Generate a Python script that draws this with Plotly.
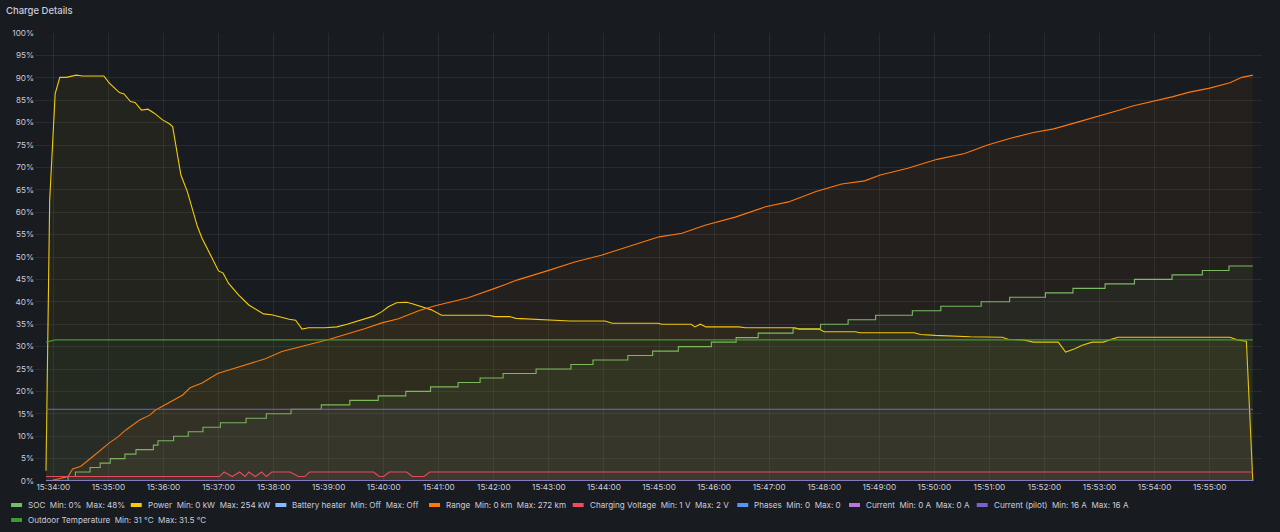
import pandas as pd
import plotly.graph_objects as go

# seconds relative to 15:34:00, values already scaled to % like the panel shows
base = pd.Timestamp('2023-07-15 15:34:00')

soc_sec = [-8, 16, 24, 40, 51, 62, 78, 90, 109, 114, 131, 147, 163, 182, 210, 232, 259,
           292, 323, 354, 384, 411, 441, 465, 490, 526, 564, 588, 626, 653, 681, 717,
           744, 768, 806, 836, 866, 896, 936, 967, 1011, 1042, 1081, 1111, 1146, 1178,
           1219, 1252, 1281, 1307]
soc_val = [0, 1, 2, 3, 4, 5, 6, 7, 8, 9, 10, 11, 12, 13, 14, 15, 16, 17, 18, 19, 20, 21,
           22, 23, 24, 25, 26, 27, 28, 29, 30, 31, 32, 33, 34, 35, 36, 37, 38, 39, 40,
           41, 42, 43, 44, 45, 46, 47, 48, 48]

power_sec = [-8, -4, 2, 7, 14, 25, 32, 55, 61, 72, 77, 84, 89, 96, 103, 110, 119, 126, 130,
             139, 146, 157, 162, 171, 180, 185, 191, 202, 213, 229, 238, 257, 264, 271, 278,
             296, 309, 320, 333, 340, 349, 358, 365, 374, 385, 392, 401, 412, 423, 474, 481,
             497, 504, 526, 563, 601, 609, 659, 663, 695, 699, 705, 711, 747, 754, 808, 813,
             834, 840, 874, 879, 938, 945, 961, 999, 1034, 1041, 1057, 1068, 1095, 1103,
             1113, 1121, 1132, 1144, 1151, 1160, 1282, 1290, 1300, 1307]
power_val = [2.3, 62.7, 86.5, 90.1, 90.1, 90.6, 90.4, 90.4, 88.8, 86.7, 86.4, 84.7, 84.5,
             82.8, 83.0, 82.1, 80.6, 79.8, 79.1, 68.3, 64.6, 56.8, 54.2, 50.4, 46.9, 46.4,
             44.1, 41.5, 39.3, 37.3, 37.1, 36.1, 35.9, 33.9, 34.2, 34.2, 34.4, 35.0, 35.8,
             36.1, 36.8, 37.8, 38.9, 39.8, 39.9, 39.5, 38.9, 38.2, 37.0, 37.0, 36.7, 36.7,
             36.3, 36.1, 35.7, 35.7, 35.2, 35.2, 35.0, 35.0, 34.4, 35.0, 34.4, 34.4, 34.2,
             34.2, 33.9, 33.9, 33.3, 33.3, 33.1, 33.1, 32.7, 32.5, 32.2, 32.1, 31.6, 31.5,
             31.0, 31.0, 28.8, 29.5, 30.3, 31.0, 31.0, 31.5, 32.1, 32.1, 31.5, 31.2, 0]

range_sec = [-4, 7, 16, 21, 30, 45, 61, 70, 79, 94, 105, 111, 122, 141, 149, 162, 179, 206,
             231, 249, 271, 300, 339, 358, 376, 398, 416, 452, 481, 506, 538, 568, 597, 626,
             660, 685, 710, 743, 776, 801, 831, 859, 884, 901, 931, 963, 993, 1018, 1043,
             1068, 1090, 1116, 1137, 1162, 1176, 1198, 1220, 1238, 1260, 1282, 1295, 1307]
range_val = [0, 0.5, 1.0, 2.7, 3.3, 5.8, 8.5, 9.8, 11.4, 13.6, 14.7, 15.8, 17.0, 19.2, 20.8,
             21.9, 24.0, 25.7, 27.3, 28.9, 30.0, 31.6, 34.0, 35.3, 36.2, 38.0, 39.1, 40.9,
             43.0, 44.9, 46.9, 48.9, 50.4, 52.3, 54.5, 55.3, 57.1, 58.9, 61.2, 62.3, 64.6,
             66.3, 67.0, 68.3, 69.8, 71.8, 73.1, 75.0, 76.5, 77.8, 78.6, 80.1, 81.3, 82.8,
             83.7, 84.7, 85.8, 86.8, 87.7, 88.9, 90.1, 90.6]

volt_sec = [-8, 181, 186, 195, 203, 209, 213, 220, 227, 232, 238, 258, 267, 274, 279, 349,
            355, 360, 366, 385, 391, 404, 410, 1307]
volt_val = [1, 1, 2, 1, 2, 1, 2, 1, 2, 1, 2, 2, 1, 1, 2, 2, 1, 1, 2, 2, 1, 1, 2, 2]

flat_sec = [-8, 1307]
heater_val = [0, 0]
phases_val = [0, 0]
current_val = [0, 0]
pilot_val = [16, 16]
temp_sec = [-8, 2, 1307]
temp_val = [31, 31.5, 31.5]

series = [
    ('SOC', 'Min: 0%', 'Max: 48%', soc_sec, soc_val, '#73BF69', 'hv'),
    ('Power', 'Min: 0 kW', 'Max: 254 kW', power_sec, power_val, '#F2CC0C', 'linear'),
    ('Battery heater', 'Min: Off', 'Max: Off', flat_sec, heater_val, '#8AB8FF', 'linear'),
    ('Range', 'Min: 0 km', 'Max: 272 km', range_sec, range_val, '#FF780A', 'linear'),
    ('Charging Voltage', 'Min: 1 V', 'Max: 2 V', volt_sec, volt_val, '#F2495C', 'linear'),
    ('Phases', 'Min: 0', 'Max: 0', flat_sec, phases_val, '#5794F2', 'linear'),
    ('Current', 'Min: 0 A', 'Max: 0 A', flat_sec, current_val, '#B877D9', 'linear'),
    ('Current (pilot)', 'Min: 16 A', 'Max: 16 A', flat_sec, pilot_val, '#7A62C8', 'linear'),
    ('Outdoor Temperature', 'Min: 31 °C', 'Max: 31.5 °C', temp_sec, temp_val, '#3E9A33', 'linear'),
]

# legend slots in the panel (pixel left edge of the swatch, row centre)
legend_slots = [(8, 505), (128, 505), (273, 505), (427, 505), (571, 505),
                (736, 505), (848, 505), (976, 505), (8, 520)]

W, H = 1280, 532
L, R, T, B = 32, 18, 33, 51


def rgba(hex_color, a):
    h = hex_color.lstrip('#')
    return 'rgba(%d,%d,%d,%s)' % (int(h[0:2], 16), int(h[2:4], 16), int(h[4:6], 16), a)


def px(x):
    return (x - L) / (W - L - R)


def py(y):
    return (H - B - y) / (H - T - B)


sp = '\u00a0\u00a0'
fig = go.Figure()
for (name, mn, mx, secs, vals, color, shape), (lx, ly) in zip(series, legend_slots):
    fig.add_trace(go.Scatter(
        x=base + pd.to_timedelta(secs, unit='s'),
        y=vals,
        name=name,
        mode='lines',
        line=dict(color=color, width=1.1, shape=shape),
        fill='tozeroy',
        fillcolor=rgba(color, 0.055),
        showlegend=False,
        hoverinfo='skip',
    ))
    fig.add_shape(type='line', xref='paper', yref='paper',
                  x0=px(lx), x1=px(lx + 11), y0=py(ly), y1=py(ly),
                  line=dict(color=color, width=4))
    fig.add_annotation(text=name + sp + mn + sp + mx, xref='paper', yref='paper',
                       x=px(lx + 15), y=py(ly), xanchor='left', yanchor='middle',
                       showarrow=False, font=dict(size=8.1, color='#CCCCDC'))

grid = 'rgba(204,204,220,0.09)'
fig.update_layout(
    width=W, height=H,
    paper_bgcolor='#181B1F', plot_bgcolor='#181B1F',
    font=dict(family='Inter', color='#CCCCDC', size=8.2),
    margin=dict(l=L, r=R, t=T, b=B),
    title=dict(text='Charge Details', x=6 / W, xanchor='left', xref='container',
               y=1 - 11 / H, yanchor='middle', yref='container',
               font=dict(size=9.5, color='#CCCCDC', weight=500)),
    showlegend=False,
)
fig.update_xaxes(
    range=[base - pd.Timedelta(seconds=20), base + pd.Timedelta(seconds=1317)],
    dtick=60000, tickformat='%H:%M:%S', showgrid=True, gridcolor=grid, zeroline=False,
    showline=False, ticks='', tickfont=dict(size=8.2, color='#CCCCDC'),
)
fig.update_yaxes(
    range=[0, 100], dtick=5, ticksuffix='%', showgrid=True, gridcolor=grid, zeroline=False,
    showline=False, ticks='', tickfont=dict(size=8.2, color='#CCCCDC'),
)

fig.write_html('out.html', config={'displayModeBar': False},
               post_script="document.body.style.margin='0';")
